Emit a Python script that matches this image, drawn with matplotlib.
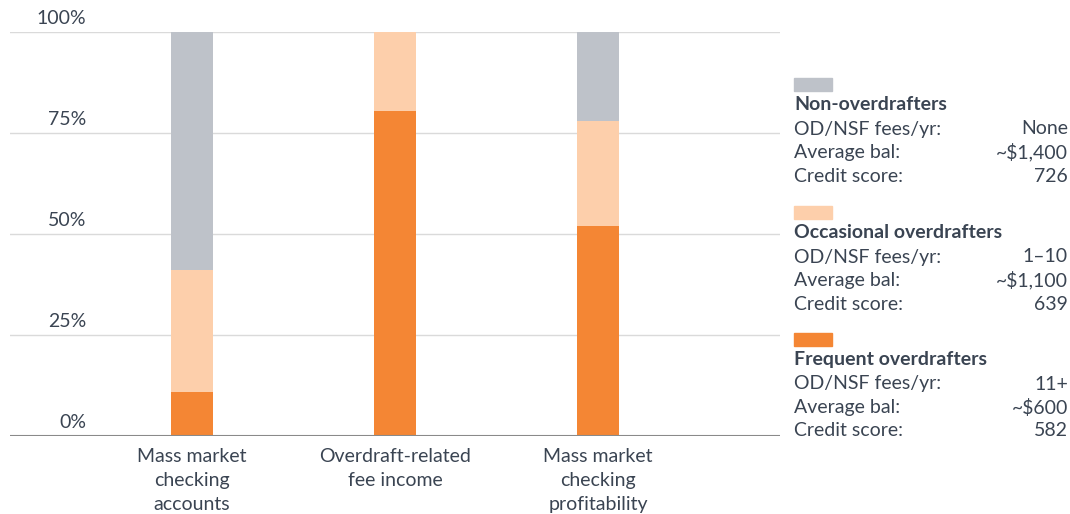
import matplotlib.pyplot as plt
import numpy as np

plt.rcParams['font.family'] = ['Lato', 'DejaVu Sans']

# data
categories = ['Mass market\nchecking\naccounts', 'Overdraft-related\nfee income',
              'Mass market\nchecking\nprofitability']
frequent = [11, 80.5, 52]
occasional = [30, 19.5, 26]
non_od = [59, 0, 22]

yticks = [0, 25, 50, 75, 100]
ytick_labels = ['0%', '25%', '50%', '75%', '100%']

groups = ['Non-overdrafters', 'Occasional overdrafters', 'Frequent overdrafters']
row_labels = ['OD/NSF fees/yr:', 'Average bal:', 'Credit score:']
group_values = [['None', '~$1,400', '726'],
                ['1\u201310', '~$1,100', '639'],
                ['11+', '~$600', '582']]

c_non = '#BEC2C9'
c_occ = '#FDCFAB'
c_freq = '#F48634'
txt = '#3A4452'
fs = 14

fig = plt.figure(figsize=(10.7, 5.14), dpi=100)
ax = fig.add_axes([10/1070, 1 - 436/514, 770/1070, 404/514])

x = np.arange(len(categories))
w = 0.21
ax.bar(x, frequent, w, color=c_freq, zorder=3)
ax.bar(x, occasional, w, bottom=frequent, color=c_occ, zorder=3)
ax.bar(x, non_od, w, bottom=np.add(frequent, occasional), color=c_non, zorder=3)

ax.set_xlim(-0.897, 2.897)
ax.set_ylim(0, 100)
for s in ax.spines.values():
    s.set_visible(False)
for yv in yticks[1:]:
    ax.axhline(yv, color='#DADADA', lw=1, zorder=1)
ax.axhline(0, color='#8A8A8A', lw=1.5, zorder=4)
ax.set_yticks([])
ax.set_xticks([])

# y labels above gridlines
for yv, lab in zip(yticks, ytick_labels):
    ax.text(76/770, yv + 1.2, lab, transform=ax.get_yaxis_transform(),
            ha='right', va='bottom', fontsize=fs, color=txt)

# category labels
for xi, lab in zip(x, categories):
    ax.text(xi, -3.0, lab, ha='center', va='top', fontsize=fs, color=txt,
            linespacing=1.5)

# legend panel on the right
colors = [c_non, c_occ, c_freq]
swatch_tops = [78, 206, 333]
for g, col, top, vals in zip(groups, colors, swatch_tops, group_values):
    fig.patches.append(plt.Rectangle((794/1070, 1 - (top + 13)/514), 38/1070, 13/514,
                                     transform=fig.transFigure, color=col))
    fig.text(794/1070, 1 - (top + 26)/514, g, fontsize=fs, fontweight='bold',
             color=txt, va='center', ha='left')
    for i, (rl, v) in enumerate(zip(row_labels, vals)):
        yy = 1 - (top + 51 + 23.5*i)/514
        fig.text(794/1070, yy, rl, fontsize=fs, color=txt, va='center', ha='left')
        fig.text(1068/1070, yy, v, fontsize=fs, color=txt, va='center', ha='right')

fig.savefig('out.png', dpi=100)
